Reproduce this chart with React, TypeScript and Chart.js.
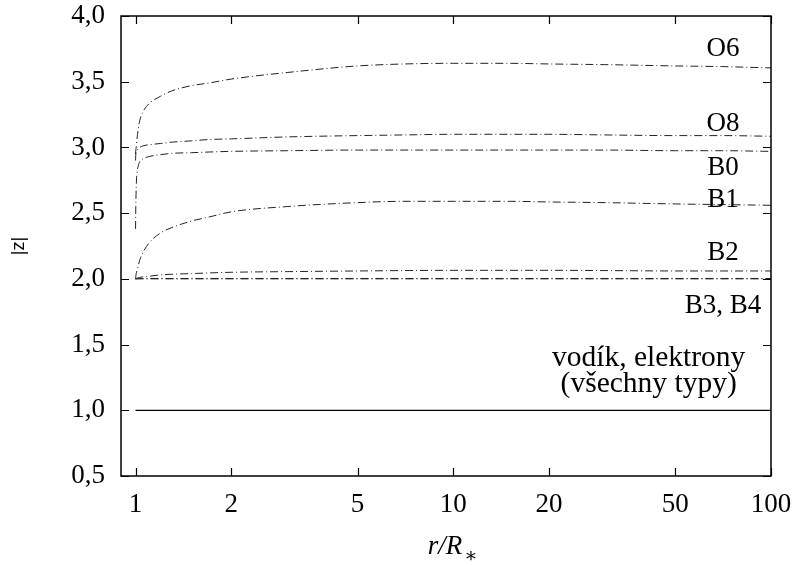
import React, { useEffect, useRef } from 'react';
import { Chart, registerables } from 'chart.js';

Chart.register(...registerables);

// radius r/R* sample points
const rValues = [1, 1.002, 1.005, 1.01, 1.02, 1.03, 1.05, 1.1, 1.2, 1.3, 1.5, 1.7, 2, 3, 5, 7, 10, 15, 20, 30, 50, 70, 100];

const o6 = [2.95, 2.98, 3.0, 3.06, 3.14, 3.2, 3.26, 3.33, 3.39, 3.43, 3.47, 3.49, 3.52, 3.57, 3.62, 3.635, 3.64, 3.64, 3.635, 3.63, 3.62, 3.615, 3.605];
const o8 = [2.9, 2.95, 2.97, 2.98, 2.99, 3.0, 3.01, 3.02, 3.03, 3.04, 3.05, 3.06, 3.065, 3.08, 3.09, 3.095, 3.1, 3.1, 3.1, 3.095, 3.09, 3.09, 3.085];
const b0 = [2.38, 2.55, 2.7, 2.8, 2.86, 2.89, 2.91, 2.93, 2.945, 2.955, 2.96, 2.965, 2.97, 2.975, 2.98, 2.98, 2.98, 2.98, 2.98, 2.98, 2.975, 2.975, 2.97];
const b1 = [2.0, 2.02, 2.04, 2.06, 2.1, 2.14, 2.19, 2.27, 2.35, 2.39, 2.44, 2.47, 2.51, 2.55, 2.58, 2.59, 2.59, 2.59, 2.585, 2.58, 2.57, 2.565, 2.56];
const b2 = [2.0, 2.001, 2.003, 2.005, 2.008, 2.01, 2.015, 2.02, 2.03, 2.035, 2.04, 2.045, 2.05, 2.055, 2.06, 2.063, 2.065, 2.065, 2.065, 2.063, 2.06, 2.06, 2.06];
const b3 = [2.0, 2.0, 2.0, 2.0, 2.0, 2.0, 2.0, 2.0, 2.0, 2.0, 2.0, 2.0, 2.0, 2.0, 2.0, 2.0, 2.0, 2.0, 2.0, 2.0, 2.0, 2.0, 2.0];
const b4 = [1.998, 1.999, 2.0, 2.001, 2.002, 2.002, 2.003, 2.003, 2.003, 2.003, 2.003, 2.003, 2.003, 2.003, 2.003, 2.003, 2.003, 2.003, 2.003, 2.003, 2.003, 2.003, 2.003];
const hydrogen = [1.0, 1.0, 1.0, 1.0, 1.0, 1.0, 1.0, 1.0, 1.0, 1.0, 1.0, 1.0, 1.0, 1.0, 1.0, 1.0, 1.0, 1.0, 1.0, 1.0, 1.0, 1.0, 1.0];

const xTickValues = [1, 2, 5, 10, 20, 50, 100];
const yTickValues = [0.5, 1.0, 1.5, 2.0, 2.5, 3.0, 3.5, 4.0];

const seriesNames = ['O6', 'O8', 'B0', 'B1', 'B2', 'B3', 'B4', 'vodík, elektrony'];

// curve labels: text with anchor in data coordinates (r, |z|)
const labelTexts = ['O6', 'O8', 'B0', 'B1', 'B2', 'B3, B4', 'vodík, elektrony', '(všechny typy)'];
const labelR = [70.6, 70.6, 70.6, 70.6, 70.6, 70.6, 41.2, 41.2];
const labelZ = [3.752, 3.18, 2.846, 2.602, 2.198, 1.795, 1.399, 1.201];
const labelSizes = [27, 27, 27, 27, 27, 27, 29.5, 29.5];

const SERIF = "'Liberation Serif', 'DejaVu Serif', serif";

const decorPlugin = {
  id: 'decor',
  afterDraw(chart: any) {
    const { ctx, chartArea: a, scales } = chart;
    const xs = scales.x;
    const ys = scales.y;
    ctx.save();
    // frame
    ctx.strokeStyle = '#000';
    ctx.lineWidth = 1.5;
    ctx.strokeRect(a.left, a.top, a.right - a.left, a.bottom - a.top);
    // inner ticks
    ctx.lineWidth = 1.2;
    const tl = 8;
    ctx.beginPath();
    xTickValues.forEach((v) => {
      const px = Math.round(xs.getPixelForValue(v)) + 0.5;
      ctx.moveTo(px, a.bottom);
      ctx.lineTo(px, a.bottom - tl);
      ctx.moveTo(px, a.top);
      ctx.lineTo(px, a.top + tl);
    });
    yTickValues.forEach((v) => {
      const py = Math.round(ys.getPixelForValue(v)) + 0.5;
      ctx.moveTo(a.left, py);
      ctx.lineTo(a.left + tl, py);
      ctx.moveTo(a.right, py);
      ctx.lineTo(a.right - tl, py);
    });
    ctx.stroke();
    // curve labels
    ctx.fillStyle = '#000';
    ctx.textAlign = 'center';
    ctx.textBaseline = 'middle';
    labelTexts.forEach((t, i) => {
      ctx.font = `${labelSizes[i]}px ${SERIF}`;
      ctx.fillText(t, xs.getPixelForValue(labelR[i]), ys.getPixelForValue(labelZ[i]));
    });
    // x axis title r/R*
    const cx = (a.left + a.right) / 2;
    ctx.font = `italic 27px ${SERIF}`;
    ctx.textAlign = 'left';
    ctx.textBaseline = 'alphabetic';
    const main = 'r/R';
    const w = ctx.measureText(main).width;
    const startX = cx - (w + 14) / 2 + 6;
    ctx.fillText(main, startX, 554);
    ctx.font = `20px ${SERIF}`;
    ctx.fillText('∗', startX + w + 2, 562);
    ctx.restore();
  },
};

export default function App() {
  const ref = useRef<HTMLCanvasElement | null>(null);
  useEffect(() => {
    if (!ref.current) return;
    const dashed = (name: string, data: number[]) => ({
      label: name,
      data: rValues.map((r, i) => ({ x: r, y: data[i] })),
      borderColor: '#222',
      borderWidth: 1,
      borderDash: [8, 3, 1, 3],
      pointRadius: 0,
      fill: false,
      cubicInterpolationMode: 'monotone' as const,
    });
    const seriesData = [o6, o8, b0, b1, b2, b3, b4];
    const datasets: any[] = seriesData.map((d, i) => dashed(seriesNames[i], d));
    datasets.push({
      label: seriesNames[7],
      data: rValues.map((r, i) => ({ x: r, y: hydrogen[i] })),
      borderColor: '#000',
      borderWidth: 1.2,
      pointRadius: 0,
      fill: false,
    });
    const tickFont = { family: SERIF, size: 27 };
    const chart = new Chart(ref.current, {
      type: 'line',
      data: { datasets },
      options: {
        animation: false,
        responsive: false,
        maintainAspectRatio: false,
        layout: { padding: { top: 16, right: 24, left: 0, bottom: 0 } },
        plugins: { legend: { display: false }, tooltip: { enabled: false } },
        scales: {
          x: {
            type: 'logarithmic',
            min: 0.9,
            max: 100,
            afterBuildTicks: (s: any) => {
              s.ticks = xTickValues.map((v) => ({ value: v }));
            },
            afterFit: (s: any) => {
              s.height = 89;
              s.paddingLeft = 0;
              s.paddingRight = 0;
            },
            ticks: {
              autoSkip: false,
              maxRotation: 0,
              minRotation: 0,
              color: '#000',
              font: tickFont,
              padding: 13,
              callback: (v: any) => String(v),
            },
            grid: { display: false, drawTicks: false },
            border: { display: false },
          },
          y: {
            min: 0.5,
            max: 4.0,
            afterBuildTicks: (s: any) => {
              s.ticks = yTickValues.map((v) => ({ value: v }));
            },
            afterFit: (s: any) => {
              s.width = 121;
              s.paddingTop = 0;
              s.paddingBottom = 0;
            },
            ticks: {
              color: '#000',
              font: tickFont,
              padding: 16,
              callback: (v: any) => Number(v).toFixed(1).replace('.', ','),
            },
            grid: { display: false, drawTicks: false },
            border: { display: false },
            title: {
              display: true,
              text: '|z|',
              color: '#000',
              font: { family: "'Liberation Sans', 'DejaVu Sans', sans-serif", size: 18 },
              padding: { top: 8, bottom: 0 },
            },
          },
        },
      } as any,
      plugins: [decorPlugin],
    });
    return () => chart.destroy();
  }, []);
  return (
    <div style={{ position: 'absolute', left: 0, top: 0, width: 795, height: 565, background: '#fff' }}>
      <canvas ref={ref} width={795} height={565} />
    </div>
  );
}
